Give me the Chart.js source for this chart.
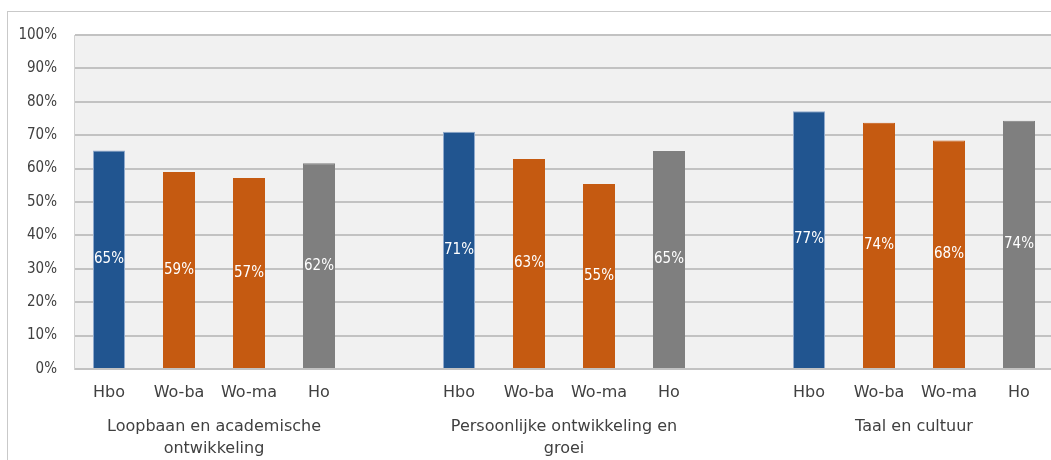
<!DOCTYPE html>
<html>
<head>
<meta charset="utf-8">
<script src="https://cdn.jsdelivr.net/npm/chart.js@4/dist/chart.umd.min.js"></script>
<style>
  html, body { margin:0; padding:0; width:1051px; height:460px; overflow:hidden; background:#ffffff; }
  #frame { position:absolute; left:7px; top:11px; width:1200px; height:600px; border-left:1px solid #c9c9c9; border-top:1px solid #c9c9c9; }
  #wrap { position:absolute; left:0; top:0; width:1135px; height:460px; }
</style>
</head>
<body>
<div id="frame"></div>
<div id="wrap"><canvas id="c" width="1135" height="460"></canvas></div>
<script>
// ---- data ----
const subCategories = ['Hbo', 'Wo-ba', 'Wo-ma', 'Ho'];
const groupLabels = [
  ['Loopbaan en academische', 'ontwikkeling'],
  ['Persoonlijke ontwikkeling en', 'groei'],
  ['Taal en cultuur']
];
const loopbaanValues = [65.4, 59.0, 57.2, 61.6];
const persoonlijkValues = [71.0, 62.9, 55.4, 65.3];
const taalValues = [77.2, 73.7, 68.4, 74.3];
const yTickValues = [0, 10, 20, 30, 40, 50, 60, 70, 80, 90, 100];

// ---- build slots (4 bars per group + 1 empty gap slot) ----
const groupValues = [loopbaanValues, persoonlijkValues, taalValues];
const colorFor = { 'Hbo': '#215590', 'Wo-ba': '#c55a11', 'Wo-ma': '#c55a11', 'Ho': '#7f7f7f' };
const borderFor = { 'Hbo': '#8fa9cc', 'Wo-ba': '#c55a11', 'Wo-ma': '#c55a11', 'Ho': '#7f7f7f' };
const labels = [], values = [], bg = [], bd = [], groupAxisLabels = [];
groupValues.forEach((vals, g) => {
  subCategories.forEach((s, i) => {
    labels.push(s); values.push(vals[i]); bg.push(colorFor[s]); bd.push(borderFor[s]);
    // group label sits on the 2nd slot of its group, shifted half a slot right
    groupAxisLabels.push(i === 1 ? groupLabels[g] : '');
  });
  labels.push(''); values.push(null); bg.push('rgba(0,0,0,0)'); bd.push('rgba(0,0,0,0)');
  groupAxisLabels.push('');
});

const textColor = '#404040';
const numFont = "'DejaVu Sans Condensed', 'DejaVu Sans', sans-serif";
const txtFont = "'DejaVu Sans', sans-serif";

const plotBg = {
  id: 'plotBg',
  beforeDraw(chart) {
    const {ctx, chartArea: a} = chart;
    ctx.save();
    ctx.fillStyle = '#f1f1f1';
    ctx.fillRect(a.left, a.top, a.right - a.left, a.bottom - a.top);
    ctx.restore();
  }
};

const valueLabels = {
  id: 'valueLabels',
  afterDatasetsDraw(chart) {
    const {ctx} = chart;
    const meta = chart.getDatasetMeta(0);
    ctx.save();
    ctx.fillStyle = '#ffffff';
    ctx.font = '15px ' + numFont;
    ctx.textAlign = 'center';
    ctx.textBaseline = 'middle';
    meta.data.forEach((el, i) => {
      const v = chart.data.datasets[0].data[i];
      if (v === null || v === undefined) return;
      ctx.fillText(Math.round(v) + '%', el.x, (el.y + el.base) / 2);
    });
    ctx.restore();
  }
};

new Chart(document.getElementById('c'), {
  type: 'bar',
  data: {
    labels: labels,
    datasets: [{
      data: values,
      backgroundColor: bg,
      borderColor: bd,
      borderWidth: 1,
      categoryPercentage: 1,
      barPercentage: 32 / 70
    }]
  },
  options: {
    responsive: false,
    animation: false,
    layout: { padding: { left: 8, right: 11, top: 35, bottom: 0 } },
    plugins: { legend: { display: false }, tooltip: { enabled: false } },
    scales: {
      x: {
        type: 'category',
        weight: 0,
        grid: { display: false, drawTicks: false },
        border: { display: false },
        ticks: {
          color: textColor,
          font: { family: txtFont, size: 16 },
          padding: 14,
          autoSkip: false,
          maxRotation: 0,
          minRotation: 0
        },
        afterFit(s) { s.height = 34; }
      },
      x2: {
        type: 'category',
        position: 'bottom',
        weight: 1,
        labels: groupAxisLabels,
        grid: { display: false, drawTicks: false },
        border: { display: false },
        ticks: {
          color: textColor,
          font: { family: txtFont, size: 16, lineHeight: 1.375 },
          padding: 13,
          labelOffset: 35,
          autoSkip: false,
          maxRotation: 0,
          minRotation: 0
        },
        afterFit(s) { s.height = 57; }
      },
      y: {
        min: 0,
        max: 100,
        afterBuildTicks(s) { s.ticks = yTickValues.map(v => ({ value: v })); },
        grid: { color: '#c2c2c2', lineWidth: 2, drawTicks: false },
        border: { display: true, color: '#d2d2d2', width: 1 },
        ticks: {
          color: textColor,
          font: { family: numFont, size: 15 },
          padding: 17,
          callback: v => v + '%'
        },
        afterFit(s) { s.width = 66; }
      }
    }
  },
  plugins: [plotBg, valueLabels]
});
</script>
</body>
</html>
